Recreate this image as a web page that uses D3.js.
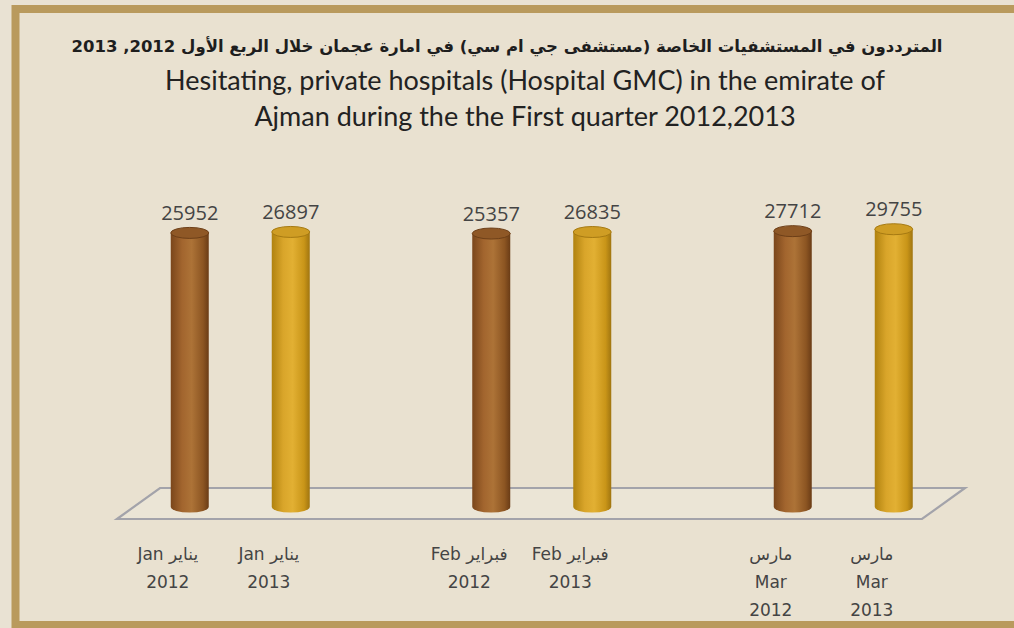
<!DOCTYPE html>
<html>
<head>
<meta charset="utf-8">
<script src="https://cdn.jsdelivr.net/npm/d3@7"></script>
<style>
  body { margin: 0; background: #e9e2d3; }
  svg { display: block; }
</style>
</head>
<body>
<script>
var months = ["Jan", "Feb", "Mar"];
var arabicMonths = ["يناير", "فبراير", "مارس"];
var years = ["2012", "2013"];
var values2012 = [25952, 25357, 27712];
var values2013 = [26897, 26835, 29755];

var width = 1014, height = 628;
var svg = d3.select("body").append("svg").attr("width", width).attr("height", height);

// frame
svg.append("rect").attr("width", width).attr("height", height).attr("fill", "#e9e2d3");
svg.append("rect").attr("x", 15.5).attr("y", 9).attr("width", 1010).attr("height", 616)
    .attr("fill", "#e9e1d0").attr("stroke", "#b99a5d").attr("stroke-width", 8);

// titles
svg.append("text").attr("x", 507).attr("y", 52).attr("text-anchor", "middle")
    .attr("direction", "rtl")
    .style("font-family", "DejaVu Sans").style("font-weight", "bold").style("font-size", "16.5px")
    .attr("fill", "#1e1e1e")
    .text("المترددون في المستشفيات الخاصة (مستشفى جي ام سي) في امارة عجمان خلال الربع الأول 2012, 2013");
svg.append("text").attr("x", 525).attr("y", 90).attr("text-anchor", "middle")
    .style("font-family", "Lato").style("font-size", "27px").attr("fill", "#222")
    .text("Hesitating, private hospitals (Hospital GMC) in the emirate of");
svg.append("text").attr("x", 525).attr("y", 126).attr("text-anchor", "middle")
    .style("font-family", "Lato").style("font-size", "27px").attr("fill", "#222")
    .text("Ajman during the the First quarter 2012,2013");

var defs = svg.append("defs");
function grad(id, stops) {
  var g = defs.append("linearGradient").attr("id", id).attr("x1", "0").attr("x2", "1").attr("y1", "0").attr("y2", "0");
  stops.forEach(function (s) { g.append("stop").attr("offset", s[0]).attr("stop-color", s[1]); });
}
grad("g2012", [["0", "#7a461b"], ["0.3", "#a2652e"], ["0.55", "#ad7337"], ["0.85", "#8c5522"], ["1", "#6a3c16"]]);
grad("g2013", [["0", "#b0820f"], ["0.3", "#d9a52a"], ["0.55", "#e2b033"], ["0.85", "#c99518"], ["1", "#a07510"]]);
var topFill = { "2012": "#8f5826", "2013": "#cf9d24" };
var topStroke = { "2012": "#6d3f18", "2013": "#a67a12" };

var x0 = d3.scaleBand().domain(months).range([89.5, 994]);
var x1 = d3.scalePoint().domain(years).range([-50.5, 50.5]);
var y = d3.scaleLog().domain([1, 30000]).range([507, 229]);

// floor plane
var floor = [[117, 519], [160, 488], [965, 488], [922, 519]];
svg.append("path").attr("d", d3.line()(floor) + "Z")
    .attr("fill", "#ebe5d6").attr("stroke", "#a3a3aa").attr("stroke-width", 2.2);

var data = [];
months.forEach(function (m, i) {
  data.push({ month: m, ar: arabicMonths[i], year: "2012", value: values2012[i] });
  data.push({ month: m, ar: arabicMonths[i], year: "2013", value: values2013[i] });
});

var rx = 19, ry = 5.5;
var bars = svg.selectAll("g.bar").data(data).enter().append("g").attr("class", "bar")
    .attr("transform", function (d) { return "translate(" + (x0(d.month) + x0.bandwidth() / 2 + x1(d.year)) + ",0)"; });

bars.append("path")
    .attr("d", function (d) {
      var t = y(d.value), b = y.range()[0];
      return "M" + (-rx) + "," + t + "L" + (-rx) + "," + b +
             "A" + rx + "," + ry + " 0 0 0 " + rx + "," + b +
             "L" + rx + "," + t + "Z";
    })
    .attr("fill", function (d) { return "url(#g" + d.year + ")"; });
bars.append("ellipse")
    .attr("cx", 0).attr("cy", function (d) { return y(d.value); })
    .attr("rx", rx).attr("ry", ry)
    .attr("fill", function (d) { return topFill[d.year]; })
    .attr("stroke", function (d) { return topStroke[d.year]; }).attr("stroke-width", 1);

bars.append("text")
    .attr("x", 0).attr("y", function (d) { return y(d.value) - 13; })
    .attr("text-anchor", "middle")
    .style("font-family", "Open Sans").style("font-size", "20px").attr("fill", "#444")
    .text(function (d) { return d.value; });

// category labels
var labels = bars.append("text")
    .attr("text-anchor", "middle")
    .style("font-family", "DejaVu Sans").style("font-size", "17px").attr("fill", "#444");
labels.each(function (d) {
  var t = d3.select(this);
  var lines = d.month === "Mar" ? [d.ar, d.month, d.year] : [d.month + " " + d.ar, d.year];
  lines.forEach(function (l, i) {
    t.append("tspan").attr("x", -22).attr("y", 560 + i * 28).text(l);
  });
});
</script>
</body>
</html>
